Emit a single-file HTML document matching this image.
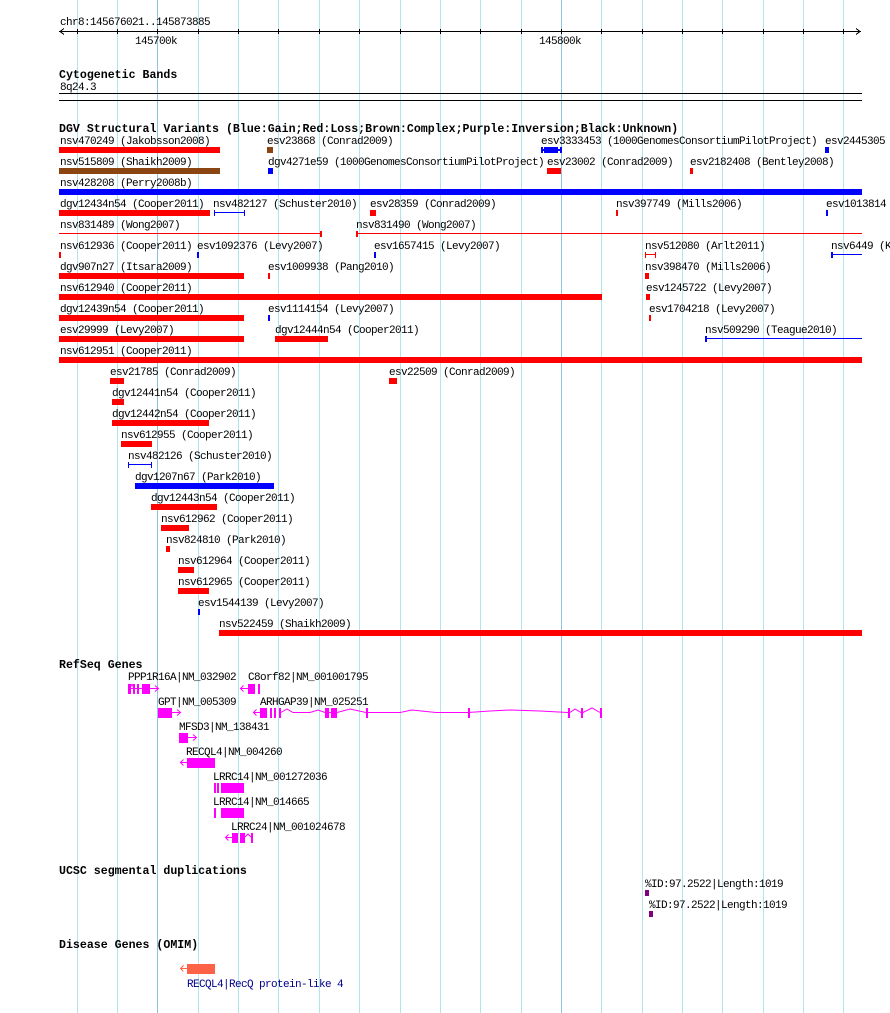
<!DOCTYPE html>
<html><head><meta charset="utf-8"><style>
html,body{margin:0;padding:0;background:#fff;}
svg{display:block;}
text{font-family:"Liberation Mono",monospace;font-size:11px;letter-spacing:-0.6px;fill:#000;}
.b{font-weight:bold;font-size:11.6px;letter-spacing:0;}
</style></head><body>
<svg width="890" height="1013" viewBox="0 0 890 1013" xmlns="http://www.w3.org/2000/svg" shape-rendering="crispEdges">
<g stroke="#aee6ec" stroke-width="1">
<line x1="77.5" y1="0" x2="77.5" y2="1013"/><line x1="117.5" y1="0" x2="117.5" y2="1013"/>
<line x1="198.5" y1="0" x2="198.5" y2="1013"/><line x1="238.5" y1="0" x2="238.5" y2="1013"/>
<line x1="278.5" y1="0" x2="278.5" y2="1013"/><line x1="319.5" y1="0" x2="319.5" y2="1013"/>
<line x1="359.5" y1="0" x2="359.5" y2="1013"/><line x1="400.5" y1="0" x2="400.5" y2="1013"/>
<line x1="440.5" y1="0" x2="440.5" y2="1013"/><line x1="480.5" y1="0" x2="480.5" y2="1013"/>
<line x1="521.5" y1="0" x2="521.5" y2="1013"/><line x1="601.5" y1="0" x2="601.5" y2="1013"/>
<line x1="642.5" y1="0" x2="642.5" y2="1013"/><line x1="682.5" y1="0" x2="682.5" y2="1013"/>
<line x1="722.5" y1="0" x2="722.5" y2="1013"/><line x1="763.5" y1="0" x2="763.5" y2="1013"/>
<line x1="803.5" y1="0" x2="803.5" y2="1013"/><line x1="843.5" y1="0" x2="843.5" y2="1013"/>
</g>
<g stroke="#8cc4e0"><line x1="157.5" y1="0" x2="157.5" y2="1013"/><line x1="561.5" y1="0" x2="561.5" y2="1013"/></g>

<text x="60" y="25">chr8:145676021..145873885</text>
<g stroke="#000" fill="none">
<line x1="59" y1="31.5" x2="861" y2="31.5"/>
<polyline points="64,28.5 60,31.5 64,34.5"/><polyline points="856,28.5 860,31.5 856,34.5"/>
<line x1="77.5" y1="29" x2="77.5" y2="34"/><line x1="117.5" y1="29" x2="117.5" y2="34"/><line x1="157.5" y1="29" x2="157.5" y2="34"/>
<line x1="198.5" y1="29" x2="198.5" y2="34"/><line x1="238.5" y1="29" x2="238.5" y2="34"/><line x1="278.5" y1="29" x2="278.5" y2="34"/>
<line x1="319.5" y1="29" x2="319.5" y2="34"/><line x1="359.5" y1="29" x2="359.5" y2="34"/><line x1="400.5" y1="29" x2="400.5" y2="34"/>
<line x1="440.5" y1="29" x2="440.5" y2="34"/><line x1="480.5" y1="29" x2="480.5" y2="34"/><line x1="521.5" y1="29" x2="521.5" y2="34"/>
<line x1="561.5" y1="29" x2="561.5" y2="34"/><line x1="601.5" y1="29" x2="601.5" y2="34"/><line x1="642.5" y1="29" x2="642.5" y2="34"/>
<line x1="682.5" y1="29" x2="682.5" y2="34"/><line x1="722.5" y1="29" x2="722.5" y2="34"/><line x1="763.5" y1="29" x2="763.5" y2="34"/>
<line x1="803.5" y1="29" x2="803.5" y2="34"/><line x1="843.5" y1="29" x2="843.5" y2="34"/>
</g>
<text x="135" y="44">145700k</text><text x="539" y="44">145800k</text>

<text class="b" x="59" y="78">Cytogenetic Bands</text>
<text x="60" y="90">8q24.3</text>
<rect x="59" y="93" width="803" height="1" fill="#000"/><rect x="59" y="100" width="803" height="1" fill="#000"/>

<text class="b" x="59" y="132">DGV Structural Variants (Blue:Gain;Red:Loss;Brown:Complex;Purple:Inversion;Black:Unknown)</text>

<text x="60" y="144">nsv470249 (Jakobsson2008)</text><rect x="59" y="147" width="161" height="6" fill="#f00"/>
<text x="267" y="144">esv23868 (Conrad2009)</text><rect x="267" y="147" width="6" height="6" fill="#8b4513"/>
<text x="541" y="144">esv3333453 (1000GenomesConsortiumPilotProject)</text>
<rect x="541" y="147" width="2" height="6" fill="#00f"/><rect x="541" y="149" width="20" height="2" fill="#00f"/><rect x="544" y="147" width="14" height="6" fill="#00f"/><rect x="560" y="147" width="2" height="6" fill="#00f"/>
<text x="825" y="144">esv2445305</text><rect x="825" y="147" width="4" height="6" fill="#00f"/>

<text x="60" y="165">nsv515809 (Shaikh2009)</text><rect x="59" y="168" width="161" height="6" fill="#8b4513"/>
<text x="268" y="165">dgv4271e59 (1000GenomesConsortiumPilotProject)</text><rect x="268" y="168" width="5" height="6" fill="#00f"/>
<text x="547" y="165">esv23002 (Conrad2009)</text><rect x="547" y="168" width="14" height="6" fill="#f00"/>
<text x="690" y="165">esv2182408 (Bentley2008)</text><rect x="690" y="168" width="3" height="6" fill="#f00"/>

<text x="60" y="186">nsv428208 (Perry2008b)</text><rect x="59" y="189" width="803" height="6" fill="#00f"/>

<text x="60" y="207">dgv12434n54 (Cooper2011)</text><rect x="59" y="210" width="151" height="6" fill="#f00"/>
<text x="213" y="207">nsv482127 (Schuster2010)</text>
<rect x="214" y="210" width="1" height="6" fill="#00f"/><rect x="214" y="212" width="31" height="1" fill="#00f"/><rect x="244" y="210" width="1" height="6" fill="#00f"/>
<text x="370" y="207">esv28359 (Conrad2009)</text><rect x="370" y="210" width="6" height="6" fill="#f00"/>
<text x="616" y="207">nsv397749 (Mills2006)</text><rect x="616" y="210" width="2" height="6" fill="#f00"/>
<text x="826" y="207">esv1013814</text><rect x="826" y="210" width="2" height="6" fill="#00f"/>

<text x="60" y="228">nsv831489 (Wong2007)</text><rect x="59" y="233" width="262" height="1" fill="#f00"/><rect x="320" y="231" width="2" height="6" fill="#f00"/>
<text x="356" y="228">nsv831490 (Wong2007)</text><rect x="357" y="233" width="505" height="1" fill="#f00"/><rect x="356" y="231" width="2" height="6" fill="#f00"/>

<text x="60" y="249">nsv612936 (Cooper2011)</text><rect x="59" y="252" width="2" height="6" fill="#f00"/>
<text x="197" y="249">esv1092376 (Levy2007)</text><rect x="197" y="252" width="2" height="6" fill="#00f"/>
<text x="374" y="249">esv1657415 (Levy2007)</text><rect x="374" y="252" width="2" height="6" fill="#00f"/>
<text x="645" y="249">nsv512080 (Arlt2011)</text><rect x="645" y="252" width="1" height="6" fill="#f00"/><rect x="645" y="254" width="11" height="1" fill="#f00"/><rect x="655" y="252" width="1" height="6" fill="#f00"/>
<text x="831" y="249">nsv6449 (K</text><rect x="831" y="252" width="2" height="6" fill="#00f"/><rect x="831" y="254" width="31" height="1" fill="#00f"/>

<text x="60" y="270">dgv907n27 (Itsara2009)</text><rect x="59" y="273" width="185" height="6" fill="#f00"/>
<text x="268" y="270">esv1009938 (Pang2010)</text><rect x="268" y="273" width="2" height="6" fill="#f00"/>
<text x="645" y="270">nsv398470 (Mills2006)</text><rect x="645" y="273" width="4" height="6" fill="#f00"/>

<text x="60" y="291">nsv612940 (Cooper2011)</text><rect x="59" y="294" width="543" height="6" fill="#f00"/>
<text x="646" y="291">esv1245722 (Levy2007)</text><rect x="646" y="294" width="4" height="6" fill="#f00"/>

<text x="60" y="312">dgv12439n54 (Cooper2011)</text><rect x="59" y="315" width="185" height="6" fill="#f00"/>
<text x="268" y="312">esv1114154 (Levy2007)</text><rect x="268" y="315" width="2" height="6" fill="#00f"/>
<text x="649" y="312">esv1704218 (Levy2007)</text><rect x="649" y="315" width="2" height="6" fill="#f00"/>

<text x="60" y="333">esv29999 (Levy2007)</text><rect x="59" y="336" width="185" height="6" fill="#f00"/>
<text x="275" y="333">dgv12444n54 (Cooper2011)</text><rect x="275" y="336" width="53" height="6" fill="#f00"/>
<text x="705" y="333">nsv509290 (Teague2010)</text><rect x="705" y="336" width="2" height="6" fill="#00f"/><rect x="705" y="338" width="157" height="1" fill="#00f"/>

<text x="60" y="354">nsv612951 (Cooper2011)</text><rect x="59" y="357" width="803" height="6" fill="#f00"/>

<text x="110" y="375">esv21785 (Conrad2009)</text><rect x="110" y="378" width="14" height="6" fill="#f00"/>
<text x="389" y="375">esv22509 (Conrad2009)</text><rect x="389" y="378" width="8" height="6" fill="#f00"/>
<text x="112" y="396">dgv12441n54 (Cooper2011)</text><rect x="112" y="399" width="12" height="6" fill="#f00"/>
<text x="112" y="417">dgv12442n54 (Cooper2011)</text><rect x="112" y="420" width="97" height="6" fill="#f00"/>
<text x="121" y="438">nsv612955 (Cooper2011)</text><rect x="121" y="441" width="31" height="6" fill="#f00"/>
<text x="128" y="459">nsv482126 (Schuster2010)</text><rect x="128" y="462" width="1" height="6" fill="#00f"/><rect x="128" y="464" width="24" height="1" fill="#00f"/><rect x="151" y="462" width="1" height="6" fill="#00f"/>
<text x="135" y="480">dgv1207n67 (Park2010)</text><rect x="135" y="483" width="139" height="6" fill="#00f"/>
<text x="151" y="501">dgv12443n54 (Cooper2011)</text><rect x="151" y="504" width="66" height="6" fill="#f00"/>
<text x="161" y="522">nsv612962 (Cooper2011)</text><rect x="161" y="525" width="28" height="6" fill="#f00"/>
<text x="166" y="543">nsv824810 (Park2010)</text><rect x="166" y="546" width="4" height="6" fill="#f00"/>
<text x="178" y="564">nsv612964 (Cooper2011)</text><rect x="178" y="567" width="16" height="6" fill="#f00"/>
<text x="178" y="585">nsv612965 (Cooper2011)</text><rect x="178" y="588" width="31" height="6" fill="#f00"/>
<text x="198" y="606">esv1544139 (Levy2007)</text><rect x="198" y="609" width="2" height="6" fill="#00f"/>
<text x="219" y="627">nsv522459 (Shaikh2009)</text><rect x="219" y="630" width="643" height="6" fill="#f00"/>

<text class="b" x="59" y="668">RefSeq Genes</text>
<g fill="#f0f" stroke="none">
<text x="128" y="680">PPP1R16A|NM_032902</text>
<rect x="128" y="684" width="3" height="10"/><rect x="133" y="684" width="2" height="10"/><rect x="137" y="684" width="2" height="10"/><rect x="142" y="684" width="8" height="10"/><rect x="128" y="688" width="30" height="1"/>
<text x="248" y="680">C8orf82|NM_001001795</text>
<rect x="240" y="688" width="14" height="1"/><rect x="248" y="684" width="7" height="10"/><rect x="258" y="684" width="2" height="10"/>
<text x="158" y="705">GPT|NM_005309</text>
<rect x="158" y="708" width="14" height="10"/><rect x="158" y="712" width="22" height="1"/>
<text x="260" y="705">ARHGAP39|NM_025251</text>
<rect x="253" y="712" width="10" height="1"/><rect x="260" y="708" width="7" height="10"/><rect x="270" y="708" width="2" height="10"/><rect x="274" y="708" width="2" height="10"/><rect x="279" y="708" width="2" height="10"/>
<rect x="325" y="708" width="4" height="10"/><rect x="331" y="708" width="6" height="10"/><rect x="366" y="708" width="2" height="10"/><rect x="468" y="708" width="2" height="10"/><rect x="568" y="708" width="2" height="10"/><rect x="581" y="708" width="2" height="10"/><rect x="600" y="708" width="2" height="10"/>
<text x="179" y="730">MFSD3|NM_138431</text>
<rect x="179" y="733" width="9" height="10"/><rect x="179" y="737" width="17" height="1"/>
<text x="186" y="755">RECQL4|NM_004260</text>
<rect x="180" y="762" width="8" height="1"/><rect x="187" y="758" width="28" height="10"/>
<text x="213" y="780">LRRC14|NM_001272036</text>
<rect x="214" y="783" width="2" height="10"/><rect x="217" y="783" width="2" height="10"/><rect x="221" y="783" width="23" height="10"/>
<text x="213" y="805">LRRC14|NM_014665</text>
<rect x="214" y="808" width="2" height="10"/><rect x="221" y="808" width="23" height="10"/>
<text x="231" y="830">LRRC24|NM_001024678</text>
<rect x="225" y="837" width="8" height="1"/><rect x="232" y="833" width="6" height="10"/><rect x="240" y="833" width="5" height="10"/><rect x="251" y="833" width="2" height="10"/>
</g>
<g fill="none" stroke="#f0f" stroke-width="1" shape-rendering="auto">
<polyline points="155,685.5 158.5,688.5 155,691.5"/><polyline points="131,684 132,686 133,684"/>
<polyline points="243.5,685.5 240.5,688.5 243.5,691.5"/>
<polyline points="177,709.5 180.5,712.5 177,715.5"/>
<polyline points="256.5,709.5 253.5,712.5 256.5,715.5"/>
<polyline points="281,712.5 287,709 293,712.5 310,712.5 318,710 325,712.5 337,712.5 350,709 366,712.5 400,712.5 412,710 436,712.5 468,712.5 490,711 510,710 540,711 568,712.5"/>
<polyline points="570,712.5 575,709 581,712.5 583,712.5 592,708 600,712.5"/>
<polyline points="193,734.5 196.5,737.5 193,740.5"/>
<polyline points="183.5,759.5 180.5,762.5 183.5,765.5"/>
<polyline points="228.5,834.5 225.5,837.5 228.5,840.5"/>
<polyline points="245,837 248,834 251,837"/>
</g>

<text class="b" x="59" y="874">UCSC segmental duplications</text>
<text x="645" y="887">%ID:97.2522|Length:1019</text><rect x="645" y="890" width="4" height="6" fill="#800080"/>
<text x="649" y="908">%ID:97.2522|Length:1019</text><rect x="649" y="911" width="4" height="6" fill="#800080"/>

<text class="b" x="59" y="948">Disease Genes (OMIM)</text>
<rect x="187" y="964" width="28" height="10" fill="#ff6347"/>
<rect x="180" y="968" width="8" height="1" fill="#ff6347"/>
<polyline points="183.5,965.5 180.5,968.5 183.5,971.5" fill="none" stroke="#ff6347"/>
<text x="187" y="987" style="fill:#00008b">RECQL4|RecQ protein-like 4</text>
</svg>
</body></html>
